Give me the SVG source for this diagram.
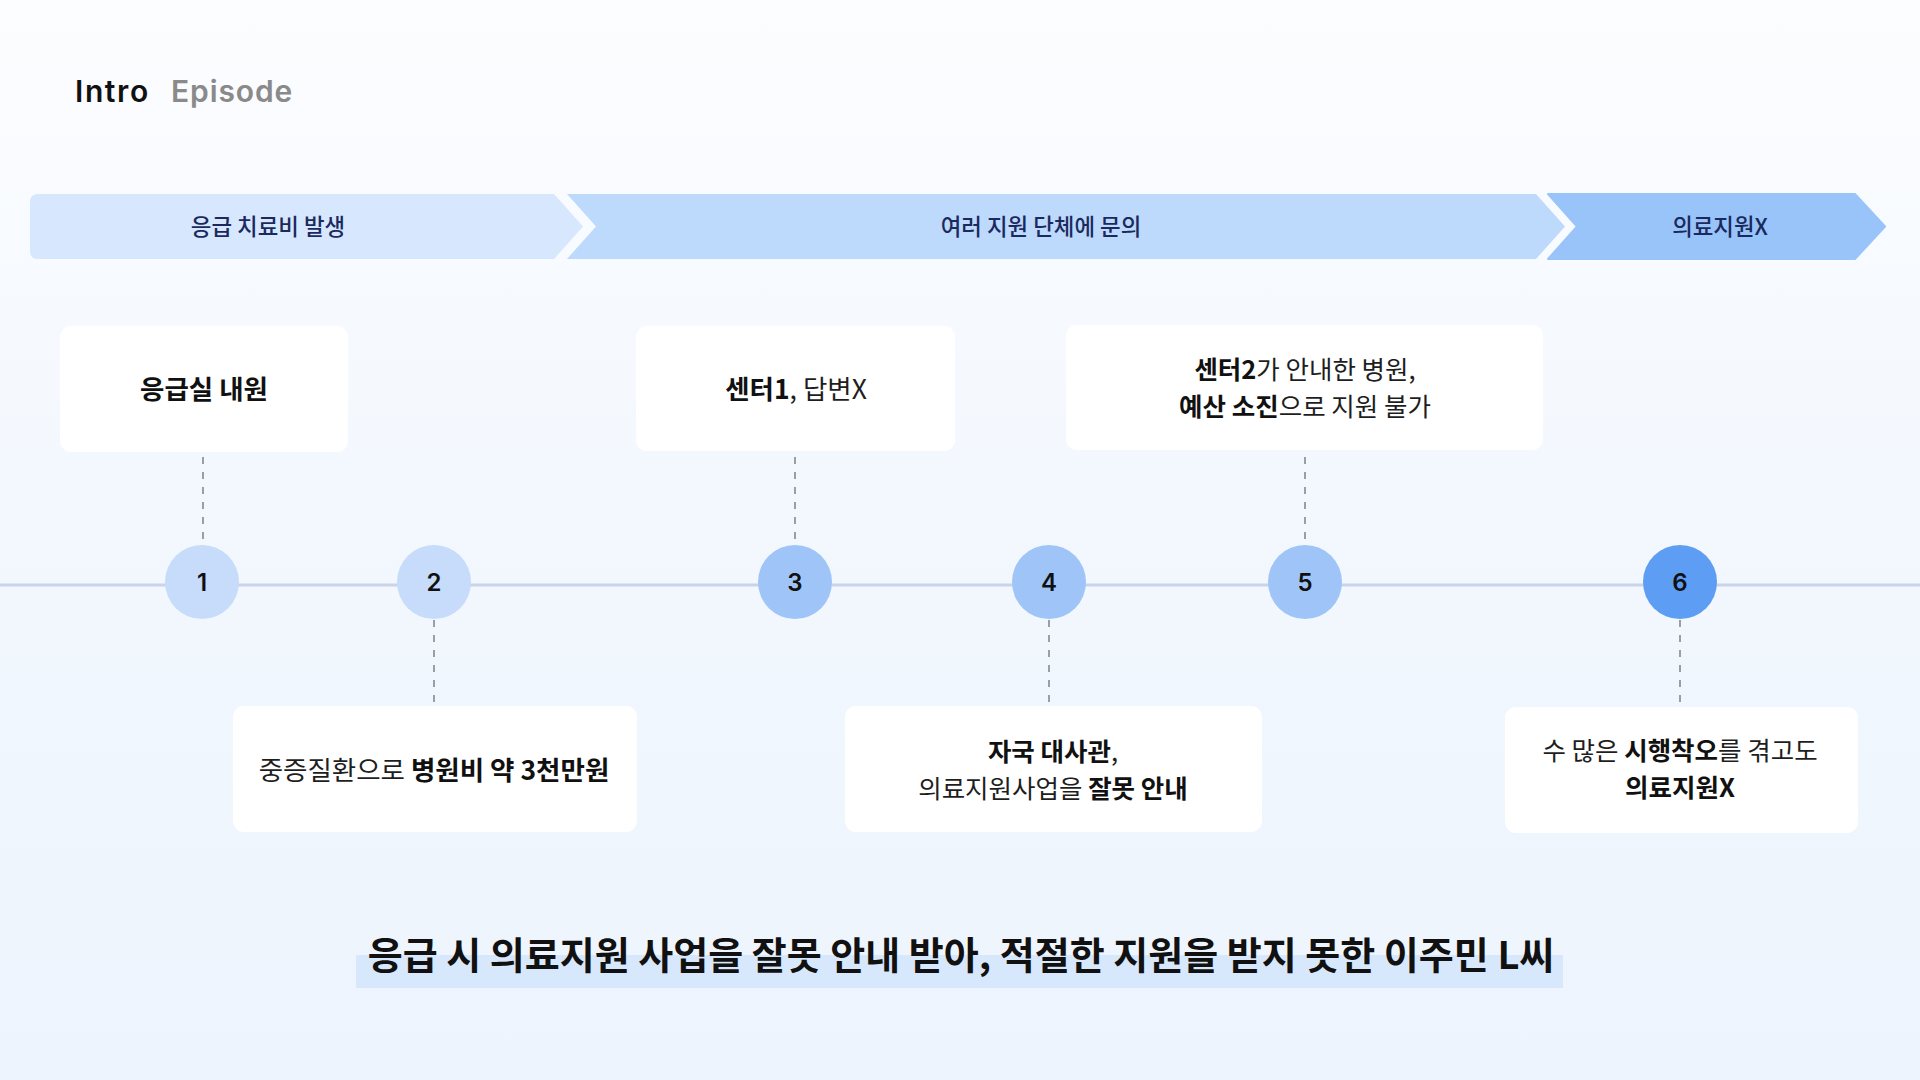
<svg xmlns="http://www.w3.org/2000/svg" width="1920" height="1080" viewBox="0 0 1920 1080">
  <defs>
    <linearGradient id="bg" x1="0" y1="0" x2="0" y2="1">
      <stop offset="0" stop-color="#fcfdff"/>
      <stop offset="0.45" stop-color="#f3f8fe"/>
      <stop offset="1" stop-color="#edf4fd"/>
    </linearGradient>
    <style>
      .kr { font-family: "Noto Sans CJK KR", "Noto Sans", sans-serif; }
      .banner-t { font-size: 22.4px; font-weight: 500; fill: #1b2a5e; text-anchor: middle; }
      .box { fill: #ffffff; }
      .box-t { font-size: 26.5px; font-weight: 400; fill: #1e1e1e; text-anchor: middle; }
      .two { font-size: 25.5px; }
      .b { font-weight: 700; fill: #111111; }
      .dash { stroke: #7c818c; stroke-width: 1.5; stroke-dasharray: 7 8; fill: none; }
      .num { font-family: Inter, "Liberation Sans", sans-serif; font-size: 24px; font-weight: 600; fill: #111111; text-anchor: middle; }
      .c-light { fill: #c7dcfb; }
      .c-mid { fill: #9fc5f8; }
      .c-dark { fill: #5e9df4; }
    </style>
  </defs>

  <rect x="0" y="0" width="1920" height="1080" fill="url(#bg)"/>

  <g id="title">
    <text x="75" y="102" font-family="Inter, 'Liberation Sans', sans-serif" font-size="30" font-weight="600" fill="#111111" letter-spacing="1.6">Intro</text>
    <text x="171" y="102" font-family="Inter, 'Liberation Sans', sans-serif" font-size="30" font-weight="600" fill="#8a8a8a" letter-spacing="0.9">Episode</text>
  </g>

  <g id="phases">
    <g id="phase-1">
      <path d="M38,194 H554 L583,226.5 L554,259 H38 Q30,259 30,251 V202 Q30,194 38,194 Z" fill="#d7e7fd"/>
      <text class="kr banner-t" x="268" y="234.5">응급 치료비 발생</text>
    </g>
    <g id="phase-2">
      <path d="M567,194 H1536 L1565,226.5 L1536,259 H567 L596,226.5 Z" fill="#bdd9fc"/>
      <text class="kr banner-t" x="1041" y="234.5">여러 지원 단체에 문의</text>
    </g>
    <g id="phase-3">
      <path d="M1548,194 H1855 L1885,226.5 L1855,259 H1548 L1577,226.5 Z" fill="#98c4fa" stroke="#98c4fa" stroke-width="2" stroke-linejoin="round"/>
      <text class="kr banner-t" x="1720" y="234.5">의료지원X</text>
    </g>
  </g>

  <line id="timeline" x1="0" y1="585" x2="1920" y2="585" stroke="#c9d4ea" stroke-width="3"/>

  <g id="connectors">
    <line class="dash" x1="203" y1="457" x2="203" y2="545"/>
    <line class="dash" x1="795" y1="457" x2="795" y2="545"/>
    <line class="dash" x1="1305" y1="457" x2="1305" y2="545"/>
    <line class="dash" x1="434" y1="620" x2="434" y2="706"/>
    <line class="dash" x1="1049" y1="620" x2="1049" y2="706"/>
    <line class="dash" x1="1680" y1="620" x2="1680" y2="707"/>
  </g>

  <g id="node-1">
    <rect class="box" x="60" y="326" width="288" height="126" rx="11"/>
    <text class="kr box-t" x="204" y="398.5"><tspan class="b">응급실 내원</tspan></text>
  </g>
  <g id="node-2">
    <rect class="box" x="233" y="706" width="404" height="126" rx="11"/>
    <text class="kr box-t" x="434" y="779.5">중증질환으로 <tspan class="b">병원비 약 3천만원</tspan></text>
  </g>
  <g id="node-3">
    <rect class="box" x="636" y="326" width="319" height="125" rx="11"/>
    <text class="kr box-t" x="796" y="398.5"><tspan class="b">센터1</tspan>, 답변X</text>
  </g>
  <g id="node-4">
    <rect class="box" x="845" y="706" width="417" height="126" rx="11"/>
    <text class="kr box-t two" x="1053" y="760.5"><tspan class="b">자국 대사관</tspan>,<tspan x="1053" dy="37">의료지원사업을 </tspan><tspan class="b">잘못 안내</tspan></text>
  </g>
  <g id="node-5">
    <rect class="box" x="1066" y="325" width="477" height="125" rx="11"/>
    <text class="kr box-t two" x="1305" y="378.5"><tspan class="b">센터2</tspan>가 안내한 병원,<tspan class="b" x="1305" dy="37">예산 소진</tspan>으로 지원 불가</text>
  </g>
  <g id="node-6">
    <rect class="box" x="1505" y="707" width="353" height="126" rx="11"/>
    <text class="kr box-t two" x="1680" y="760">수 많은 <tspan class="b">시행착오</tspan>를 겪고도<tspan class="b" x="1680" dy="37">의료지원X</tspan></text>
  </g>

  <g id="step-1"><circle class="c-light" cx="202" cy="582" r="37"/><text class="num" x="202" y="591">1</text></g>
  <g id="step-2"><circle class="c-light" cx="434" cy="582" r="37"/><text class="num" x="434" y="591">2</text></g>
  <g id="step-3"><circle class="c-mid" cx="795" cy="582" r="37"/><text class="num" x="795" y="591">3</text></g>
  <g id="step-4"><circle class="c-mid" cx="1049" cy="582" r="37"/><text class="num" x="1049" y="591">4</text></g>
  <g id="step-5"><circle class="c-mid" cx="1305" cy="582" r="37"/><text class="num" x="1305" y="591">5</text></g>
  <g id="step-6"><circle class="c-dark" cx="1680" cy="582" r="37"/><text class="num" x="1680" y="591">6</text></g>

  <g id="caption">
    <rect x="356" y="955" width="1207" height="33" fill="#d7e8fd"/>
    <text class="kr" x="961" y="969" font-size="38" font-weight="700" fill="#111111" text-anchor="middle">응급 시 의료지원 사업을 잘못 안내 받아, 적절한 지원을 받지 못한 이주민 L씨</text>
  </g>
</svg>
